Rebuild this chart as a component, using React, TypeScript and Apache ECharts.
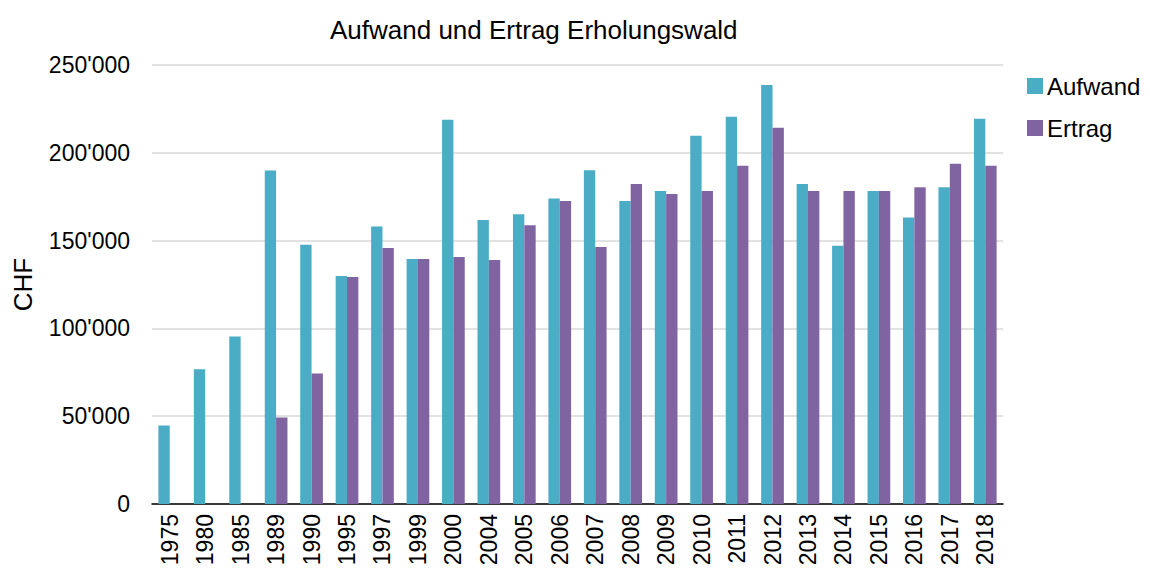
import React, { useEffect, useRef } from "react";
import * as echarts from "echarts";

const years = ["1975","1980","1985","1989","1990","1995","1997","1999","2000","2004","2005","2006","2007","2008","2009","2010","2011","2012","2013","2014","2015","2016","2017","2018"];
const aufwand = [44700,76800,95400,189900,147700,129800,158000,139500,218800,161800,165000,174000,190100,172600,178300,209700,220500,238600,182300,147100,178300,163100,180400,219400];
const ertrag = [null,null,null,49200,74300,129300,145800,139500,140700,139000,158700,172600,146400,182300,176600,178300,192600,214300,178300,178300,178300,180400,193700,192600];
const yTicks = { min: 0, max: 250000, interval: 50000 };

const FONT = "'Liberation Sans', Arial, sans-serif";

function fmt(v: number): string {
  return String(v).replace(/\B(?=(\d{3})+(?!\d))/g, "'");
}

export default function App() {
  const ref = useRef<HTMLDivElement>(null);
  useEffect(() => {
    if (!ref.current) return;
    const chart = echarts.init(ref.current, undefined, { renderer: "svg" });
    chart.setOption({
      animation: false,
      textStyle: { fontFamily: FONT },
      title: {
        text: "Aufwand und Ertrag Erholungswald",
        left: 325,
        top: 12,
        textStyle: { fontFamily: FONT, fontSize: 26, fontWeight: "normal", color: "#000" },
      },
      legend: {
        orient: "vertical",
        left: 1027,
        top: 74,
        padding: 0,
        itemWidth: 16,
        itemHeight: 16,
        itemGap: 18,
        icon: "rect",
        textStyle: { fontFamily: FONT, fontSize: 24, color: "#000", lineHeight: 24, padding: [0, 0, 0, -1] },
        data: ["Aufwand", "Ertrag"],
      },
      grid: { left: 152, right: 147, top: 65, bottom: 68, containLabel: false },
      xAxis: {
        type: "category",
        data: years,
        axisLine: { lineStyle: { color: "#000", width: 1.5 } },
        axisTick: { show: false },
        axisLabel: { rotate: 90, fontSize: 23, color: "#000", fontFamily: FONT, margin: 10, interval: 0 },
      },
      yAxis: {
        type: "value",
        min: yTicks.min,
        max: yTicks.max,
        interval: yTicks.interval,
        name: "CHF",
        nameLocation: "middle",
        nameGap: 116,
        nameTextStyle: { fontSize: 26, color: "#000", fontFamily: FONT },
        axisLine: { show: false },
        axisTick: { show: false },
        axisLabel: { fontSize: 23, color: "#000", fontFamily: FONT, margin: 22, formatter: (v: number) => fmt(v) },
        splitLine: { lineStyle: { color: "#d9d9d9", width: 1.5 } },
      },
      series: [
        { name: "Aufwand", type: "bar", data: aufwand, itemStyle: { color: "#4BACC6" }, barGap: "0%", barCategoryGap: "36%" },
        { name: "Ertrag", type: "bar", data: ertrag, itemStyle: { color: "#8064A2" }, barGap: "0%", barCategoryGap: "36%" },
      ],
    });
    return () => chart.dispose();
  }, []);
  return <div ref={ref} style={{ width: 1150, height: 572, position: "absolute", left: 0, top: 0 }} />;
}
